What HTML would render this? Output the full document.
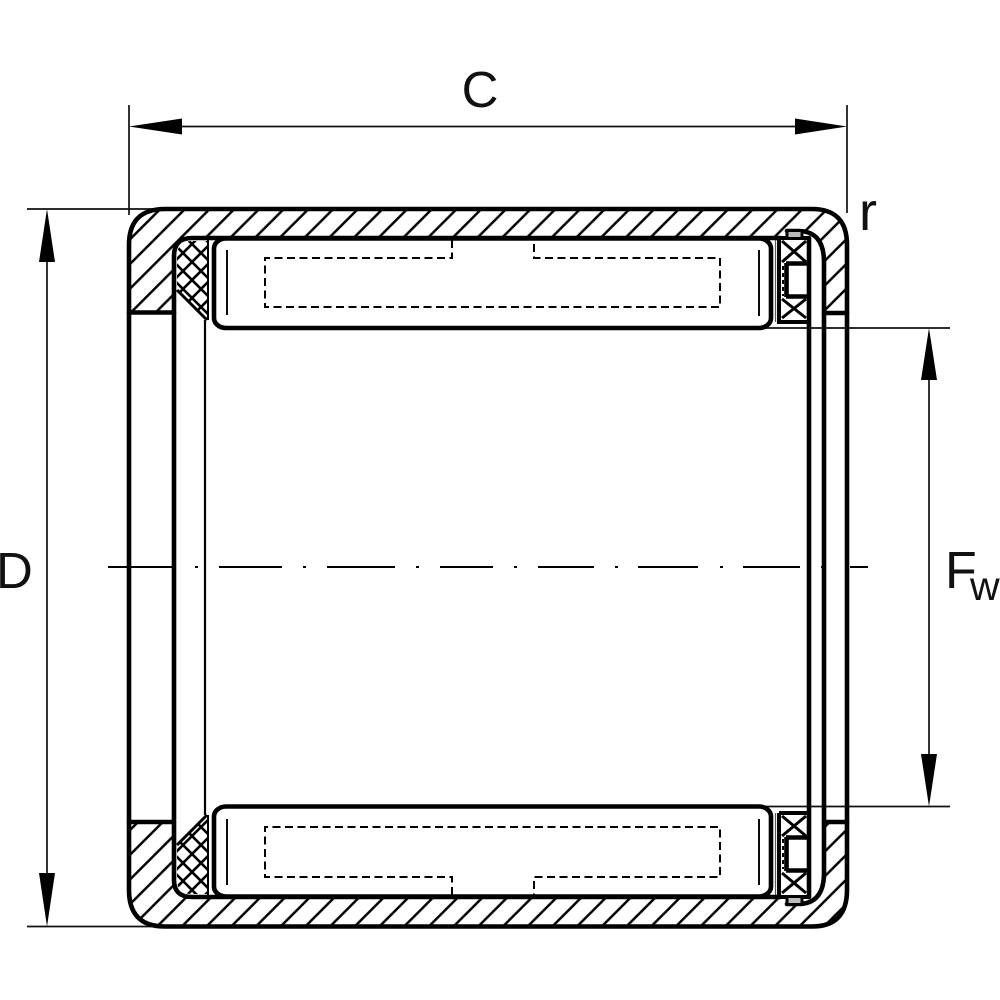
<!DOCTYPE html>
<html><head><meta charset="utf-8"><style>
html,body{margin:0;padding:0;background:#fff}
svg{display:block}
text{font-family:"Liberation Sans",sans-serif;fill:#111}
</style></head><body>
<svg width="1000" height="1000" viewBox="0 0 1000 1000" xmlns="http://www.w3.org/2000/svg">
<defs>
<pattern id="h" patternUnits="userSpaceOnUse" width="24.7" height="24.7" patternTransform="translate(-1.2,0)">
<path d="M-2,26.7 L26.7,-2 M-2,2 L2,-2 M22.7,26.7 L26.7,22.7" stroke="#000" stroke-width="2.5" fill="none"/>
</pattern>
<pattern id="b" patternUnits="userSpaceOnUse" width="24.7" height="24.7" patternTransform="translate(-3.2,0)">
<path d="M-2,26.7 L26.7,-2 M-2,2 L2,-2 M22.7,26.7 L26.7,22.7" stroke="#000" stroke-width="2.5" fill="none"/>
</pattern>
<pattern id="x" patternUnits="userSpaceOnUse" width="18" height="18" patternTransform="translate(3,1)">
<path d="M-1,19 L19,-1 M-1,-1 L19,19 M-1,1 L1,-1 M17,19 L19,17 M17,-1 L19,1 M-1,17 L1,19" stroke="#000" stroke-width="2.6" fill="none"/>
</pattern>
<pattern id="y" patternUnits="userSpaceOnUse" width="18" height="18" patternTransform="translate(3,17)">
<path d="M-1,19 L19,-1 M-1,-1 L19,19 M-1,1 L1,-1 M17,19 L19,17 M17,-1 L19,1 M-1,17 L1,19" stroke="#000" stroke-width="2.6" fill="none"/>
</pattern>
</defs>
<rect width="1000" height="1000" fill="#fff"/>

<!-- extension lines -->
<g stroke="#111" stroke-width="1.7" fill="none">
<path d="M129,105V215M847,105V213"/>
<path d="M27,209H155M27,926.5H155"/>
<path d="M765,328H950M765,806.5H950"/>
<path d="M182,126.5H795"/>
<path d="M47,262V873"/>
<path d="M929,380V754"/>
</g>
<!-- arrowheads -->
<g fill="#000">
<path d="M129,126.5L182,118.5V134.5Z"/>
<path d="M847,126.5L795,118.5V134.5Z"/>
<path d="M47,209L39,262H55Z"/>
<path d="M47,926.5L39,873H55Z"/>
<path d="M929,328L921,380H937Z"/>
<path d="M929,806.5L921,754H937Z"/>
</g>

<!-- outer ring hatch -->
<path fill="url(#h)" d="M129,312 V240 Q129,209 165,209 H815 Q847,209 847,240 V313 H824 V262 Q824,231 798,231 H787 L780,238 H192 Q174,238 174,256 V312 Z"/>
<path fill="url(#b)" d="M129,822 V895 Q129,926.5 165,926.5 H815 Q847,926.5 847,895 V822 H824 V873 Q824,904 798,904 H787 L780,897 H192 Q174,897 174,880 V822 Z"/>

<!-- cages cross hatch -->
<path fill="url(#x)" d="M177,256 Q177,241 192,241 H208 V320 H207 L177,290 Z"/>
<path fill="url(#y)" d="M177,880 Q177,894 192,894 H208 V815 H207 L177,845 Z"/>

<!-- heavy outlines -->
<g stroke="#000" stroke-width="4.6" fill="none" stroke-linejoin="round" stroke-linecap="round">
<path d="M129,312 V245 Q129,209 165,209 H812 Q847,209 847,245 V890 Q847,926.5 812,926.5 H165 Q129,926.5 129,890 Z"/>
<path d="M129,312.5 H174 M129,822 H174 M824,313 H847 M824,822 H847"/>
<path d="M174,820 V256 Q174,238 192,238 H780"/>
<path d="M174,822 V880 Q174,897 192,897 H780"/>
<path d="M809,238 V897"/>
<path d="M787,231 H798 Q824,231 824,262 V873 Q824,904 798,904 H787"/>
</g>

<!-- rollers -->
<g stroke="#000" stroke-width="4.6" fill="#fff">
<rect x="214" y="238.5" width="557" height="89.5" rx="12" ry="10"/>
<rect x="214" y="806.5" width="557" height="90" rx="12" ry="10"/>
</g>
<path d="M208,240V320M208,815V895" stroke="#000" stroke-width="2" fill="none"/>
<path d="M205,320V815" stroke="#000" stroke-width="2.2" fill="none"/>
<path d="M177,290L207,320M177,845L207,815" stroke="#000" stroke-width="3" fill="none"/>
<g stroke="#000" stroke-width="1.9" fill="none">
<path d="M227,250V315M759,250V316M227,819V885M759,819V885"/>
</g>
<!-- dashed needle shape -->
<g stroke="#000" stroke-width="2" fill="none" stroke-dasharray="8 4.5">
<path d="M452,240 V258 H265 V307 H720 V258 H534 V240"/>
<path d="M452,895 V877 H265 V827 H720 V877 H534 V895"/>
</g>

<!-- right seals -->
<g stroke="#000" fill="none">
<path d="M782,241L806,262M806,241L782,262M782,299L806,318M806,299L782,318M782,816L806,836M806,816L782,836M782,873L806,893M806,873L782,893" stroke-width="3"/>
<path d="M779,238 V322 H809 M779,813 H809 M779,813 V897 H809 M779,238 H809 M779,897H809" stroke-width="4"/>
<path d="M786,263.5 H808 M786,296.5 H808 M786.5,263 V297 M786,837.5 H808 M786,870.5 H808 M786.5,837 V871" stroke-width="4.6"/>
<path d="M783,266V296M783,839V869" stroke-width="2" stroke-dasharray="4 3"/>
<path d="M775.5,240V322M775.5,813V895" stroke-width="1.2" stroke="#555"/>
<path d="M787,237V230.5H802V237M787,898V904.5H802V898" stroke-width="3" fill="#bbb"/>
</g>

<!-- center line -->
<g stroke="#000" stroke-width="2" fill="none">
<path d="M108,567H172M195,567H198M219,567H282M303,567H306M327,567H395M416,567H419M440,567H493M514,567H517M538,567H594M615,567H618M638,567H698M720,567H723M743,567H800M821,567H824M850,567H868"/>
</g>

<!-- labels -->
<text x="480" y="107" font-size="51" text-anchor="middle">C</text>
<text x="-4" y="588" font-size="51">D</text>
<text x="859" y="230" font-size="54">r</text>
<text x="945" y="588" font-size="52">F</text>
<text x="970" y="600" font-size="41">w</text>
</svg>
</body></html>
